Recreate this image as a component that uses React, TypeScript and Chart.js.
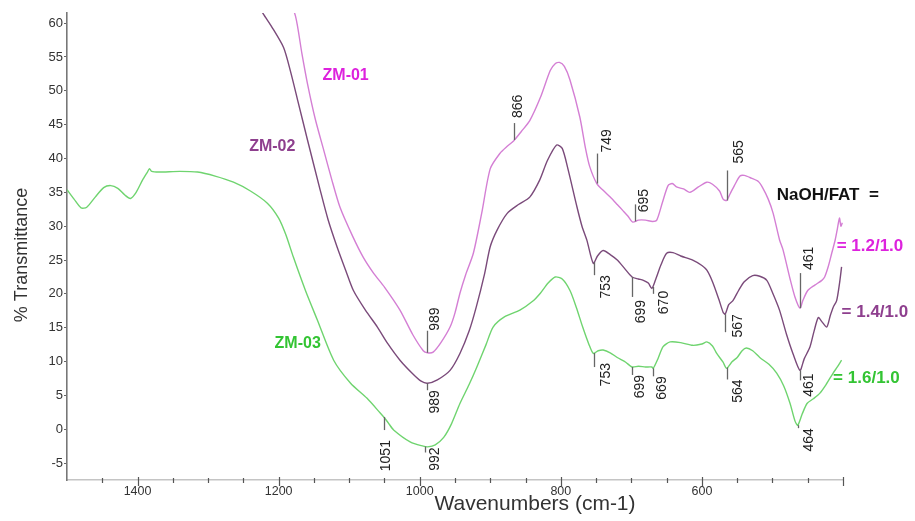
import React, { useEffect, useRef } from "react";
import { Chart, registerables } from "chart.js";

Chart.register(...registerables);

// ---------------- DATA ----------------
const seriesNames = ["ZM-01", "ZM-02", "ZM-03"];
const ratioLabels = ["= 1.2/1.0", "= 1.4/1.0", "= 1.6/1.0"];
const ratioHeader = "NaOH/FAT  =";

const xTickLabels = [600, 800, 1000, 1200, 1400];
const yTickValues = [-5, 0, 5, 10, 15, 20, 25, 30, 35, 40, 45, 50, 55, 60];

const zm01Wn = [
  1190, 1176, 1167, 1159, 1148, 1136, 1125, 1113, 1095, 1080,
  1065, 1050, 1028, 1010, 995, 989, 981, 970, 957, 950,
  943, 935, 924, 912, 900, 886, 876, 867, 856, 844,
  829, 815, 808, 802, 795, 787, 773, 765, 759, 749,
  740, 730, 720, 712, 705, 698, 690, 680, 670, 664,
  656, 648, 642, 636, 626, 617, 605, 593, 585, 575,
  570, 565, 560, 554, 546, 540, 530, 520, 514, 506,
  499, 490, 485, 475, 468, 461, 457, 450, 440, 430,
  426, 421, 416, 411, 408, 405, 403, 401,
];
const zm01T = [
  65, 61, 55.5, 51.0, 45.8, 41.2, 37.0, 32.8, 28.5, 25.4,
  23.0, 21.0, 17.6, 14.0, 11.6, 11.3, 11.4, 12.8, 15.1, 17.2,
  20.1, 22.8, 26.0, 32.0, 38.5, 40.8, 41.8, 42.6, 44.0, 45.6,
  49.0, 53.0, 54.0, 54.2, 53.6, 51.6, 46.1, 41.5, 38.8, 36.3,
  35.3, 34.3, 33.2, 32.3, 31.5, 30.6, 30.9, 30.9, 30.7, 30.9,
  33.5, 36.0, 36.3, 35.8, 35.5, 35.0, 35.8, 36.5, 36.2, 35.2,
  34.0, 33.8, 34.8, 36.0, 37.4, 37.5, 37.1, 36.6, 35.7, 34.0,
  31.9, 28.0, 26.5, 22.2, 19.5, 17.9, 19.0, 20.5, 21.3, 22.0,
  22.5, 24.0, 26.0, 28.0, 29.6, 31.2, 30.0, 30.5,
];

const zm02Wn = [
  1235, 1222, 1210, 1193, 1183, 1173, 1159, 1141, 1130, 1117,
  1105, 1094, 1077, 1060, 1045, 1028, 1010, 998, 989, 975,
  957, 943, 930, 920, 908, 900, 890, 876, 860, 844,
  830, 819, 806, 798, 790, 777, 770, 763, 754, 748,
  740, 730, 720, 710, 699, 690, 683, 676, 671, 666,
  658, 650, 641, 630, 613, 600, 593, 585, 576, 570,
  567, 562, 556, 548, 540, 528, 518, 508, 500, 490,
  480, 471, 461, 455, 447, 441, 435, 430, 423, 418,
  414, 409, 405, 402,
];
const zm02T = [
  64, 61.4, 59.5, 56.4, 52.8, 48.6, 42.7, 35.3, 31.0, 26.9,
  23.5, 20.5, 17.6, 15.1, 12.6, 10.2, 8.2, 7.1, 6.8, 7.3,
  8.7, 11.2, 14.5, 18.0, 23.0, 27.0, 29.5, 31.9, 33.2, 34.3,
  36.8, 39.7, 42.0, 41.5, 38.5, 32.8, 30.0, 27.9, 24.5, 25.6,
  26.4, 25.8, 25.0, 23.8, 22.5, 22.2, 22.0, 21.6, 20.8, 22.0,
  24.3, 26.0, 26.1, 25.6, 25.0, 24.2, 23.5, 21.8, 19.2, 17.3,
  17.0, 18.4, 19.0, 20.5, 21.8, 22.7, 22.6, 22.0, 20.2, 17.6,
  14.0, 11.2, 8.7, 10.4, 12.1, 14.5, 16.5, 15.9, 15.1, 16.8,
  18.0, 19.0, 21.5, 24.0,
];

const zm03Wn = [
  1500, 1490, 1480, 1472, 1460, 1448, 1438, 1428, 1418, 1410,
  1402, 1393, 1386, 1383, 1380, 1370, 1340, 1315, 1290, 1264,
  1240, 1216, 1200, 1190, 1179, 1162, 1145, 1122, 1098, 1075,
  1056, 1051, 1045, 1037, 1013, 995, 989, 978, 966, 955,
  943, 930, 919, 906, 896, 880, 858, 840, 829, 818,
  808, 798, 787, 778, 769, 760, 754, 747, 740, 730,
  720, 708, 699, 690, 680, 671, 669, 662, 655, 645,
  630, 613, 600, 593, 585, 579, 570, 565, 557, 550,
  543, 537, 528, 518, 505, 494, 484, 475, 468, 464,
  458, 451, 442, 433, 424, 414, 408, 402,
];
const zm03T = [
  35.4, 34.0, 32.7, 32.8, 34.3, 35.7, 36.0, 35.6, 34.6, 34.1,
  35.0, 36.8, 38.0, 38.5, 38.1, 38.0, 38.1, 38.0, 37.4, 36.5,
  35.2, 33.4, 31.2, 28.8, 25.4, 20.5, 16.1, 10.2, 6.8, 4.6,
  2.4, 1.8, 1.0, -0.1, -1.9, -2.5, -2.6, -2.3, -1.2, 0.8,
  3.8, 6.6, 9.2, 12.5, 15.1, 16.6, 17.6, 18.9, 20.1, 21.6,
  22.5, 22.2, 20.5, 18.0, 15.1, 12.5, 11.2, 11.6, 11.7, 11.3,
  10.6, 9.9, 9.2, 9.3, 9.2, 9.2, 9.0, 10.5, 12.2, 12.9,
  12.8, 12.4, 12.6, 12.9, 12.3, 11.2, 9.9, 9.0, 10.0, 10.6,
  11.6, 12.0, 11.6, 10.6, 9.6, 8.3, 6.4, 3.8, 1.2, 0.6,
  2.2, 3.8, 4.5, 5.3, 6.6, 8.3, 9.2, 10.2,
];

// peak labels (wavenumbers)
const zm01Peaks = [989, 866, 749, 695, 565, 461];
const zm02Peaks = [989, 753, 699, 670, 567, 461];
const zm03Peaks = [1051, 992, 753, 699, 669, 564, 464];

// ---------------- STYLE / LAYOUT ----------------
const FONT = "'Liberation Sans', Arial, Helvetica, sans-serif";
const lineColors = ["#d47fd4", "#7a4a7a", "#6fd46f"];
const labelColors = ["#dd22dd", "#8e3f8e", "#33c433"];

// per-peak marker layout: [line length px, label gap px, label x offset px]
const zm01PeakLayout = [[22, 0, 8], [17, 5, 4], [30, 1, 10], [17, -8, 9], [30, 7, 12], [35, 3, 9]];
const zm02PeakLayout = [[7, 0, 8], [13, 0, 12], [20, 3, 9], [7, -3, 11], [18, -18, 13], [10, -7, 9]];
const zm03PeakLayout = [[13, 10, 2], [6, -5, 10], [14, -4, 12], [8, 0, 8], [8, 0, 9], [12, 0, 11], [3, 0, 11]];

// text anchor positions in data coordinates
const seriesLabelPos = [[1105, 52.3], [1209, 41.7], [1173, 12.7]];
const ratioLabelPos = [[409, 27.0], [402, 17.3], [414, 7.5]];
const ratioHeaderPos = [494, 34.6];

function interp(wn: number[], t: number[], x: number): number {
  for (let i = 0; i < wn.length - 1; i++) {
    const a = wn[i], b = wn[i + 1];
    if ((x <= a && x >= b) || (x >= a && x <= b)) {
      const f = (x - a) / (b - a);
      return t[i] + f * (t[i + 1] - t[i]);
    }
  }
  return t[t.length - 1];
}

const peakSets = [
  { wn: zm01Wn, t: zm01T, peaks: zm01Peaks, layout: zm01PeakLayout, up: true },
  { wn: zm02Wn, t: zm02T, peaks: zm02Peaks, layout: zm02PeakLayout, up: false },
  { wn: zm03Wn, t: zm03T, peaks: zm03Peaks, layout: zm03PeakLayout, up: false },
];

const ftirPlugin = {
  id: "ftirDecor",
  afterDraw(chart: any) {
    const ctx: CanvasRenderingContext2D = chart.ctx;
    const xs = chart.scales.x;
    const ys = chart.scales.y;
    const area = chart.chartArea;
    ctx.save();

    // x-axis tick marks (minor every 50, major every 200)
    ctx.strokeStyle = "#555";
    ctx.lineWidth = 1.2;
    for (let w = 400; w < 1500; w += 50) {
      const px = Math.round(xs.getPixelForValue(w)) + 0.5;
      const major = w % 200 === 0;
      ctx.beginPath();
      ctx.moveTo(px, area.bottom - (major ? 3 : 2));
      ctx.lineTo(px, area.bottom + (major ? 6 : 3));
      ctx.stroke();
    }

    // peak markers
    ctx.font = `14px ${FONT}`;
    ctx.fillStyle = "#222";
    peakSets.forEach((s) => {
      s.peaks.forEach((p, i) => {
        const [len, gap, dx] = s.layout[i];
        const px = Math.round(xs.getPixelForValue(p)) + 0.5;
        const py = ys.getPixelForValue(interp(s.wn, s.t, p));
        ctx.strokeStyle = "#666";
        ctx.lineWidth = 1.3;
        ctx.beginPath();
        ctx.moveTo(px, py);
        const end = s.up ? py - len : py + len;
        ctx.lineTo(px, end);
        ctx.stroke();
        ctx.save();
        const ay = s.up ? end - gap : end + gap;
        ctx.translate(px + dx, ay);
        ctx.rotate(-Math.PI / 2);
        ctx.textAlign = s.up ? "left" : "right";
        ctx.textBaseline = "middle";
        ctx.fillText(String(p), 0, 0);
        ctx.restore();
      });
    });

    // series labels
    ctx.font = `bold 16px ${FONT}`;
    ctx.textBaseline = "middle";
    ctx.textAlign = "center";
    seriesNames.forEach((n, i) => {
      ctx.fillStyle = labelColors[i];
      ctx.fillText(n, xs.getPixelForValue(seriesLabelPos[i][0]), ys.getPixelForValue(seriesLabelPos[i][1]));
    });

    // ratio labels
    ctx.textAlign = "left";
    ctx.font = `bold 17px ${FONT}`;
    ctx.fillStyle = "#111";
    ctx.fillText(ratioHeader, xs.getPixelForValue(ratioHeaderPos[0]), ys.getPixelForValue(ratioHeaderPos[1]));
    ctx.font = `bold 17px ${FONT}`;
    ratioLabels.forEach((r, i) => {
      ctx.fillStyle = labelColors[i];
      ctx.fillText(r, xs.getPixelForValue(ratioLabelPos[i][0]), ys.getPixelForValue(ratioLabelPos[i][1]));
    });

    // axis titles
    ctx.fillStyle = "#333";
    ctx.font = `21px ${FONT}`;
    ctx.textAlign = "center";
    ctx.fillText("Wavenumbers (cm-1)", 535, 504);
    ctx.save();
    ctx.translate(22, 255);
    ctx.rotate(-Math.PI / 2);
    ctx.font = `18px ${FONT}`;
    ctx.fillText("% Transmittance", 0, 0);
    ctx.restore();

    ctx.restore();
  },
};

export default function App() {
  const ref = useRef<HTMLCanvasElement>(null);
  useEffect(() => {
    const toPts = (wn: number[], t: number[]) => wn.map((w, i) => ({ x: w, y: t[i] }));
    const chart = new Chart(ref.current as HTMLCanvasElement, {
      type: "line",
      data: {
        datasets: [
          { label: seriesNames[0], data: toPts(zm01Wn, zm01T), borderColor: lineColors[0] },
          { label: seriesNames[1], data: toPts(zm02Wn, zm02T), borderColor: lineColors[1] },
          { label: seriesNames[2], data: toPts(zm03Wn, zm03T), borderColor: lineColors[2] },
        ].map((d) => ({ ...d, borderWidth: 1.4, pointRadius: 0, tension: 0.25, fill: false })),
      },
      options: {
        animation: false,
        responsive: false,
        parsing: true,
        layout: { padding: { top: 13, right: 72, left: 0, bottom: 0 } },
        plugins: { legend: { display: false }, tooltip: { enabled: false }, title: { display: false } },
        scales: {
          x: {
            type: "linear",
            reverse: true,
            min: 400,
            max: 1500,
            afterFit: (s: any) => { s.height = 41; },
            border: { display: true, color: "#c4c4c4", width: 1.5 },
            grid: { display: false, drawTicks: false, tickLength: 0 },
            ticks: {
              stepSize: 200,
              includeBounds: false,
              autoSkip: false,
              maxRotation: 0,
              padding: 4,
              color: "#333",
              font: { family: FONT, size: 12.5 },
              callback: (v: any) => (xTickLabels.includes(Number(v)) ? String(v) : ""),
            },
          },
          y: {
            type: "linear",
            min: -7.5,
            max: 61.5,
            afterFit: (s: any) => { s.width = 67; },
            border: { display: true, color: "#777", width: 1.6, dash: [1, 3] },
            grid: { display: true, drawOnChartArea: false, drawTicks: true, tickLength: 3, tickColor: "#666", tickWidth: 1 },
            afterBuildTicks: (s: any) => { s.ticks = yTickValues.map((v) => ({ value: v })); },
            ticks: {
              padding: 1,
              color: "#333",
              font: { family: FONT, size: 13 },
              callback: (v: any) => String(v),
            },
          },
        },
      },
      plugins: [ftirPlugin],
    } as any);
    return () => chart.destroy();
  }, []);
  return (
    <div style={{ position: "absolute", left: 0, top: 0, width: 915, height: 521, background: "#fff" }}>
      <canvas ref={ref} width={915} height={521} style={{ display: "block" }} />
    </div>
  );
}
